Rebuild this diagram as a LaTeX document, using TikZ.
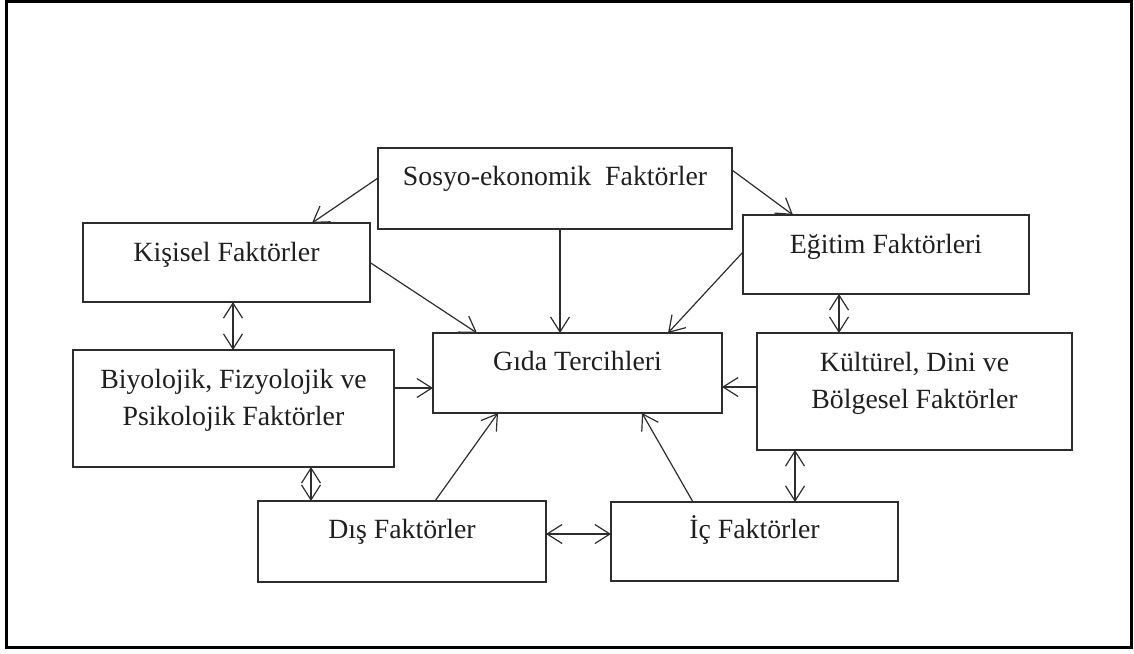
\documentclass[tikz,border=0pt]{standalone}
\usepackage{fontspec}
\setmainfont{Liberation Serif}
\usetikzlibrary{arrows.meta}

\definecolor{ink}{RGB}{45,45,45}

\tikzset{
  box/.style={draw=ink, line width=1.4pt, rectangle, inner sep=0pt, outer sep=0pt},
  txt/.style={inner sep=0pt, outer sep=0pt, align=center,
              font=\fontsize{27.8}{37}\selectfont, text=black!88},
  tip/.style={Straight Barb[length=15pt,width=19pt,line width=1.2pt]},
  link/.style={draw=ink, line width=1.2pt, -{Straight Barb[length=15pt,width=19pt,line width=1.2pt]}},
  twoway/.style={draw=ink, line width=1.2pt,
               {Straight Barb[length=15pt,width=19pt,line width=1.2pt]}-{Straight Barb[length=15pt,width=19pt,line width=1.2pt]}}
}

\begin{document}
\begin{tikzpicture}[x=1pt, y=-1pt]
  \useasboundingbox (0,0) rectangle (1134,653);
  % outer frame
  \draw[line width=3pt, black] (6,1.5) rectangle (1131.5,647);

  % boxes
  \node[box, minimum width=354pt, minimum height=81pt]  (sosyo)  at (555,188.5) {};
  \node[box, minimum width=287pt, minimum height=79pt]  (kisi)   at (226.5,262.5) {};
  \node[box, minimum width=286pt, minimum height=79pt]  (egitim) at (886,254.5) {};
  \node[box, minimum width=321pt, minimum height=117pt] (biyo)   at (233.5,408.5) {};
  \node[box, minimum width=289pt, minimum height=80pt]  (gida)   at (577.5,373) {};
  \node[box, minimum width=315pt, minimum height=117pt] (kultur) at (914.5,391.5) {};
  \node[box, minimum width=288pt, minimum height=81pt]  (dis)    at (402,541.5) {};
  \node[box, minimum width=287pt, minimum height=79pt]  (ic)     at (754.5,541.5) {};

  % labels, set in the upper part of each box (base = last line's baseline)
  \node[txt, anchor=base] (sosyo-t)  at ([yshift=-37pt]sosyo.north)  {Sosyo-ekonomik\ \ Faktörler};
  \node[txt, anchor=base] (kisi-t)   at ([yshift=-38pt]kisi.north)   {Kişisel Faktörler};
  \node[txt, anchor=base] (egitim-t) at ([yshift=-38pt]egitim.north) {Eğitim Faktörleri};
  \node[txt, anchor=base] (gida-t)   at ([yshift=-37pt]gida.north)   {Gıda Tercihleri};
  \node[txt, anchor=base] (biyo-t)   at ([yshift=-75pt]biyo.north)   {Biyolojik, Fizyolojik ve\\Psikolojik Faktörler};
  \node[txt, anchor=base] (kultur-t) at ([yshift=-75pt]kultur.north) {Kültürel, Dini ve\\Bölgesel Faktörler};
  \node[txt, anchor=base] (dis-t)    at ([yshift=-37pt]dis.north)    {Dış Faktörler};
  \node[txt, anchor=base] (ic-t)     at ([yshift=-36pt]ic.north)     {İç Faktörler};

  % one-way influences
  \draw[link] ([yshift=10.5pt]sosyo.west) -- ([xshift=85.5pt]kisi.north);
  \draw[link] ([yshift=18.5pt]sosyo.east) -- ([xshift=-93pt]egitim.north);
  \draw[link] ([xshift=5pt]sosyo.south) -- ([xshift=5pt]sosyo.south |- gida.north);
  \draw[link] (kisi.east) -- ([xshift=-100.5pt]gida.north);
  \draw[link] ([yshift=2.5pt]egitim.west) -- ([xshift=90.5pt]gida.north);
  \draw[link] ([yshift=20.5pt]biyo.east) -- ([yshift=20.5pt]biyo.east -| gida.west);
  \draw[link] ([yshift=4.5pt]kultur.west) -- ([yshift=4.5pt]kultur.west -| gida.east);
  \draw[link] ([xshift=33pt]dis.north) -- ([xshift=-79.5pt]gida.south);
  \draw[link] ([xshift=-61.5pt]ic.north) -- ([xshift=64.5pt]gida.south);

  % two-way links
  \draw[twoway] ([xshift=6.5pt]kisi.south) -- ([xshift=6.5pt]kisi.south |- biyo.north);
  \draw[twoway] ([xshift=-47pt]egitim.south) -- ([xshift=-47pt]egitim.south |- kultur.north);
  \draw[twoway] ([xshift=77.5pt]biyo.south) -- ([xshift=77.5pt]biyo.south |- dis.north);
  \draw[twoway] ([xshift=-119.5pt]kultur.south) -- ([xshift=-119.5pt]kultur.south |- ic.north);
  \draw[twoway] ([yshift=7.5pt]dis.east) -- ([yshift=7.5pt]dis.east -| ic.west);
\end{tikzpicture}
\end{document}
